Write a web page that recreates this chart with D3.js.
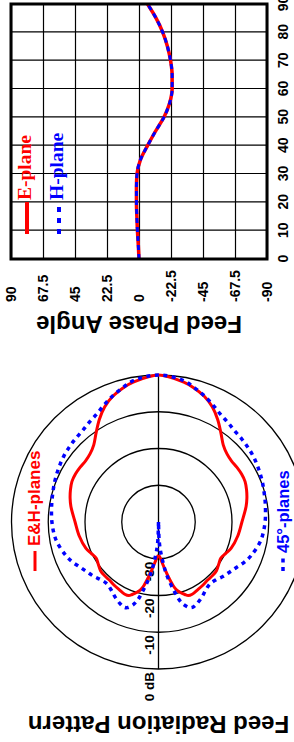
<!DOCTYPE html>
<html>
<head>
<meta charset="utf-8">
<script src="https://cdn.jsdelivr.net/npm/d3@7"></script>
<style>
body { margin: 0; background: #fff; }
svg { display: block; }
</style>
</head>
<body>
<div id="vis"></div>
<script>
// radiation pattern, half cut (deg off boresight); the other half is mirrored
const patternAngles = [0, 10, 15, 20, 25, 30, 35, 40, 45, 50, 55, 60, 65, 70, 75, 80, 90, 100, 110, 115, 120, 125, 130, 135, 140, 145, 150, 155, 158, 160, 163, 165, 167, 170, 172, 174, 176, 178, 180];
const ehPlanes = [0, -1.3, -2.3, -3.6, -5.4, -7.8, -10.4, -12.6, -13.7, -14.1, -14.0, -13.9, -14.0, -14.5, -15.1, -15.8, -17.3, -18.1, -19.0, -19.8, -20.4, -20.0, -19.4, -19.3, -19.3, -19.0, -18.7, -18.3, -18.4, -19.0, -20.0, -20.8, -22.2, -25.0, -26.8, -28.3, -29.6, -30.5, -31];
const diagPlanes = [0, -0.9, -2.2, -3.5, -4.9, -6.2, -7.0, -7.7, -8.0, -8.3, -8.6, -9.0, -9.4, -9.8, -10.2, -10.5, -11.0, -11.7, -13.2, -14.2, -15.4, -16.3, -17.0, -17.8, -18.1, -17.5, -16.4, -15.4, -15.0, -15.2, -16.5, -18.0, -20.5, -24.0, -26.5, -29.5, -32, -35, -40];
const ringLevels = [0, -10, -20, -30];
const ringLabels = ["0 dB", "-10", "-20", "-30"];

// feed phase vs angle
const phaseAngles = [0, 5, 10, 15, 20, 25, 30, 35, 40, 45, 50, 55, 60, 65, 70, 75, 80, 85, 90];
const ePhase = [0, 0.5, 1.1, 1.5, 1.8, 1.8, 1.4, -1.0, -6, -11.5, -17.5, -21.5, -23.3, -23.3, -22.2, -20, -16.7, -12, -6];
const hPhase = [0, 0.5, 1.1, 1.5, 1.8, 1.8, 1.4, -1.0, -6, -11.5, -17.5, -21.5, -23.3, -23.3, -22.2, -20, -16.7, -12, -6];
const angleTicks = [0, 10, 20, 30, 40, 50, 60, 70, 80, 90];
const phaseTicks = [90, 67.5, 45, 22.5, 0, -22.5, -45, -67.5, -90];

const SANS = "'Liberation Sans', Arial, sans-serif";
const SERIF = "'Liberation Serif', 'Times New Roman', serif";
const RED = "#ff0000", BLUE = "#0000ff";

// the figure is laid out landscape (742 x 294) and turned a quarter turn
const W = 742;
const svg = d3.select("#vis").append("svg")
    .attr("width", 294)
    .attr("height", 742);
const g = svg.append("g").attr("transform", `translate(0,${W}) rotate(-90)`);

// ---------- polar pattern ----------
const cx = 220, cy = 158.5;
const rScale = d3.scaleLinear().domain([-40, 0]).range([0, 147]);
const pol = g.append("g").attr("transform", `translate(${cx},${cy})`);

ringLevels.forEach(function(db) {
    pol.append("circle")
        .attr("r", rScale(db))
        .attr("fill", "none")
        .attr("stroke", "#000")
        .attr("stroke-width", 1.3);
});
pol.append("line")
    .attr("x1", -rScale(0)).attr("x2", rScale(0))
    .attr("y1", 0).attr("y2", 0)
    .attr("stroke", "#000")
    .attr("stroke-width", 1.3);

ringLevels.forEach(function(db, i) {
    pol.append("text")
        .attr("x", -rScale(db) - 3)
        .attr("y", -4.5)
        .attr("text-anchor", "end")
        .attr("font-family", SANS)
        .attr("font-weight", "bold")
        .attr("font-size", "13.5px")
        .text(ringLabels[i]);
});

function fullCut(vals) {
    const pts = patternAngles.map((a, i) => ({a: a, db: vals[i]}));
    const other = pts.slice(1).reverse().map(p => ({a: -p.a, db: p.db}));
    return other.concat(pts);
}

const radial = d3.lineRadial()
    .angle(d => Math.PI / 2 + d.a * Math.PI / 180)
    .radius(d => rScale(d.db))
    .curve(d3.curveCatmullRom.alpha(0.5));

pol.append("path")
    .attr("d", radial(fullCut(ehPlanes)))
    .attr("fill", "none")
    .attr("stroke", RED)
    .attr("stroke-width", 3);

pol.append("path")
    .attr("d", radial(fullCut(diagPlanes)))
    .attr("fill", "none")
    .attr("stroke", BLUE)
    .attr("stroke-width", 3.5)
    .attr("stroke-dasharray", "4,4.5");

// polar legend
g.append("line")
    .attr("x1", 171).attr("x2", 191).attr("y1", 35).attr("y2", 35)
    .attr("stroke", RED).attr("stroke-width", 3);
g.append("text")
    .attr("x", 196).attr("y", 40)
    .attr("font-family", SANS).attr("font-weight", "bold").attr("font-size", "17px")
    .attr("fill", RED)
    .text("E&H-planes");
g.append("line")
    .attr("x1", 171).attr("x2", 184).attr("y1", 283).attr("y2", 283)
    .attr("stroke", BLUE).attr("stroke-width", 3.5).attr("stroke-dasharray", "4,4.5");
g.append("text")
    .attr("x", 189).attr("y", 289)
    .attr("font-family", SANS).attr("font-weight", "bold").attr("font-size", "16.5px")
    .attr("fill", BLUE)
    .text("45°-planes");

g.append("text")
    .attr("transform", "translate(26,158.5) rotate(-90)")
    .attr("text-anchor", "middle")
    .attr("font-family", SANS).attr("font-weight", "bold").attr("font-size", "24px")
    .text("Feed Radiation Pattern");

// ---------- phase chart ----------
const x0 = 483, x1 = 738, y0 = 11, y1 = 267;
const angleScale = d3.scaleLinear().domain([0, 90]).range([x0, x1]);
const phaseScale = d3.scaleLinear().domain([90, -90]).range([y0, y1]);

const xAxis = g.append("g")
    .attr("transform", `translate(0,${y1})`)
    .call(d3.axisBottom(angleScale).tickValues(angleTicks).tickSize(-(y1 - y0)));
const yAxis = g.append("g")
    .attr("transform", `translate(${x0},0)`)
    .call(d3.axisLeft(phaseScale).tickValues(phaseTicks).tickSize(-(x1 - x0)).tickFormat(d => String(d)));

[xAxis, yAxis].forEach(function(ax) {
    ax.select(".domain").remove();
    ax.selectAll(".tick line").attr("stroke", "#000").attr("stroke-width", 1.2);
    ax.selectAll(".tick text")
        .attr("fill", "#000")
        .attr("font-family", SANS)
        .attr("font-weight", "bold")
        .attr("font-size", "14px");
});
xAxis.selectAll(".tick text").attr("y", 11).attr("dy", "0.72em");
yAxis.selectAll(".tick text")
    .attr("x", 440 - x0)
    .attr("text-anchor", "start");

const phaseLine = d3.line()
    .x((d, i) => angleScale(phaseAngles[i]))
    .y(d => phaseScale(d))
    .curve(d3.curveMonotoneX);

g.append("path")
    .attr("d", phaseLine(ePhase))
    .attr("fill", "none")
    .attr("stroke", RED)
    .attr("stroke-width", 3.5);
g.append("path")
    .attr("d", phaseLine(hPhase))
    .attr("fill", "none")
    .attr("stroke", BLUE)
    .attr("stroke-width", 3)
    .attr("stroke-dasharray", "5,4");

g.append("rect")
    .attr("x", x0).attr("y", y0)
    .attr("width", x1 - x0).attr("height", y1 - y0)
    .attr("fill", "none")
    .attr("stroke", "#000")
    .attr("stroke-width", 3);

// phase legend
g.append("line")
    .attr("x1", 508).attr("x2", 540).attr("y1", 27).attr("y2", 27)
    .attr("stroke", RED).attr("stroke-width", 4);
g.append("text")
    .attr("x", 542).attr("y", 30.5)
    .attr("font-family", SERIF).attr("font-weight", "bold").attr("font-size", "19.5px")
    .attr("fill", RED)
    .text("E-plane");
g.append("line")
    .attr("x1", 508).attr("x2", 540).attr("y1", 59).attr("y2", 59)
    .attr("stroke", BLUE).attr("stroke-width", 4).attr("stroke-dasharray", "5,6");
g.append("text")
    .attr("x", 542).attr("y", 62.5)
    .attr("font-family", SERIF).attr("font-weight", "bold").attr("font-size", "19.5px")
    .attr("fill", BLUE)
    .text("H-plane");

g.append("text")
    .attr("transform", "translate(426,139) rotate(-90)")
    .attr("text-anchor", "middle")
    .attr("font-family", SANS).attr("font-weight", "bold").attr("font-size", "24px")
    .text("Feed Phase Angle");
</script>
</body>
</html>
